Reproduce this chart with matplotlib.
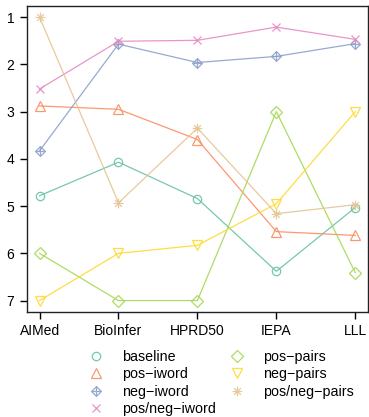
import numpy as np
import matplotlib
matplotlib.use("Agg")
import matplotlib.pyplot as plt
from matplotlib.path import Path
from matplotlib.lines import Line2D

plt.rcParams["font.family"] = ["Liberation Sans", "DejaVu Sans"]

# data (rank per corpus, 1 = best)
corpora = ["AIMed", "BioInfer", "HPRD50", "IEPA", "LLL"]
baseline = [4.78, 4.07, 4.84, 6.38, 5.03]
pos_iword = [2.88, 2.95, 3.59, 5.54, 5.62]
neg_iword = [3.83, 1.57, 1.96, 1.83, 1.56]
posneg_iword = [2.52, 1.51, 1.49, 1.21, 1.47]
pos_pairs = [6.0, 7.0, 7.0, 3.0, 6.41]
neg_pairs = [7.0, 6.0, 5.83, 4.95, 3.0]
posneg_pairs = [1.0, 4.93, 3.35, 5.16, 4.97]
labels = ["baseline", "pos\u2212iword", "neg\u2212iword", "pos/neg\u2212iword",
          "pos\u2212pairs", "neg\u2212pairs", "pos/neg\u2212pairs"]

# R-like pch markers (pch 8 and pch 9)
asterisk = Path([(-1, 0), (1, 0), (0, -1), (0, 1), (-0.7, -0.7), (0.7, 0.7), (-0.7, 0.7), (0.7, -0.7)],
                [Path.MOVETO, Path.LINETO] * 4)
diamond_plus = Path([(0, 1), (1, 0), (0, -1), (-1, 0), (0, 1), (0, 1), (0, -1), (-1, 0), (1, 0)],
                    [Path.MOVETO, Path.LINETO, Path.LINETO, Path.LINETO, Path.LINETO,
                     Path.MOVETO, Path.LINETO, Path.MOVETO, Path.LINETO])

series = [baseline, pos_iword, neg_iword, posneg_iword, pos_pairs, neg_pairs, posneg_pairs]
colors = ["#66C2A5", "#FC8D62", "#8DA0CB", "#E78AC3", "#A6D854", "#FFD92F", "#E5C494"]
markers = ["o", "^", diamond_plus, "x", "D", "v", asterisk]
msizes = [6, 7, 7, 6, 6, 7, 7]

fig = plt.figure(figsize=(3.69, 4.17), dpi=100)
ax = fig.add_axes([0.073, 0.252, 0.924, 0.734])

x = np.arange(len(corpora))
handles = []
for vals, c, m, ms, lab in zip(series, colors, markers, msizes, labels):
    ax.plot(x, vals, color=c, lw=0.9, marker=m, ms=ms, mfc="none", mec=c, mew=0.9, alpha=0.9)
    handles.append(Line2D([], [], ls="none", marker=m, ms=ms, mfc="none", mec=c, mew=0.9,
                          alpha=0.9, label=lab))

ax.set_xlim(-0.16, 4.16)
ax.set_ylim(7.24, 0.76)
ax.set_xticks(x)
ax.set_xticklabels(corpora)
ax.set_yticks(range(1, 8))
ax.tick_params(direction="out", length=5, width=1, labelsize=10, pad=4)
for s in ax.spines.values():
    s.set_linewidth(1.0)
    s.set_color("#222222")

fig.legend(handles=handles, ncol=2, loc="upper left", bbox_to_anchor=(0.238, 0.160),
           frameon=False, fontsize=10.3, handlelength=1.2, handletextpad=1.2,
           columnspacing=0.9, labelspacing=0.22, borderpad=0, borderaxespad=0)

fig.savefig("out.png", dpi=100)
